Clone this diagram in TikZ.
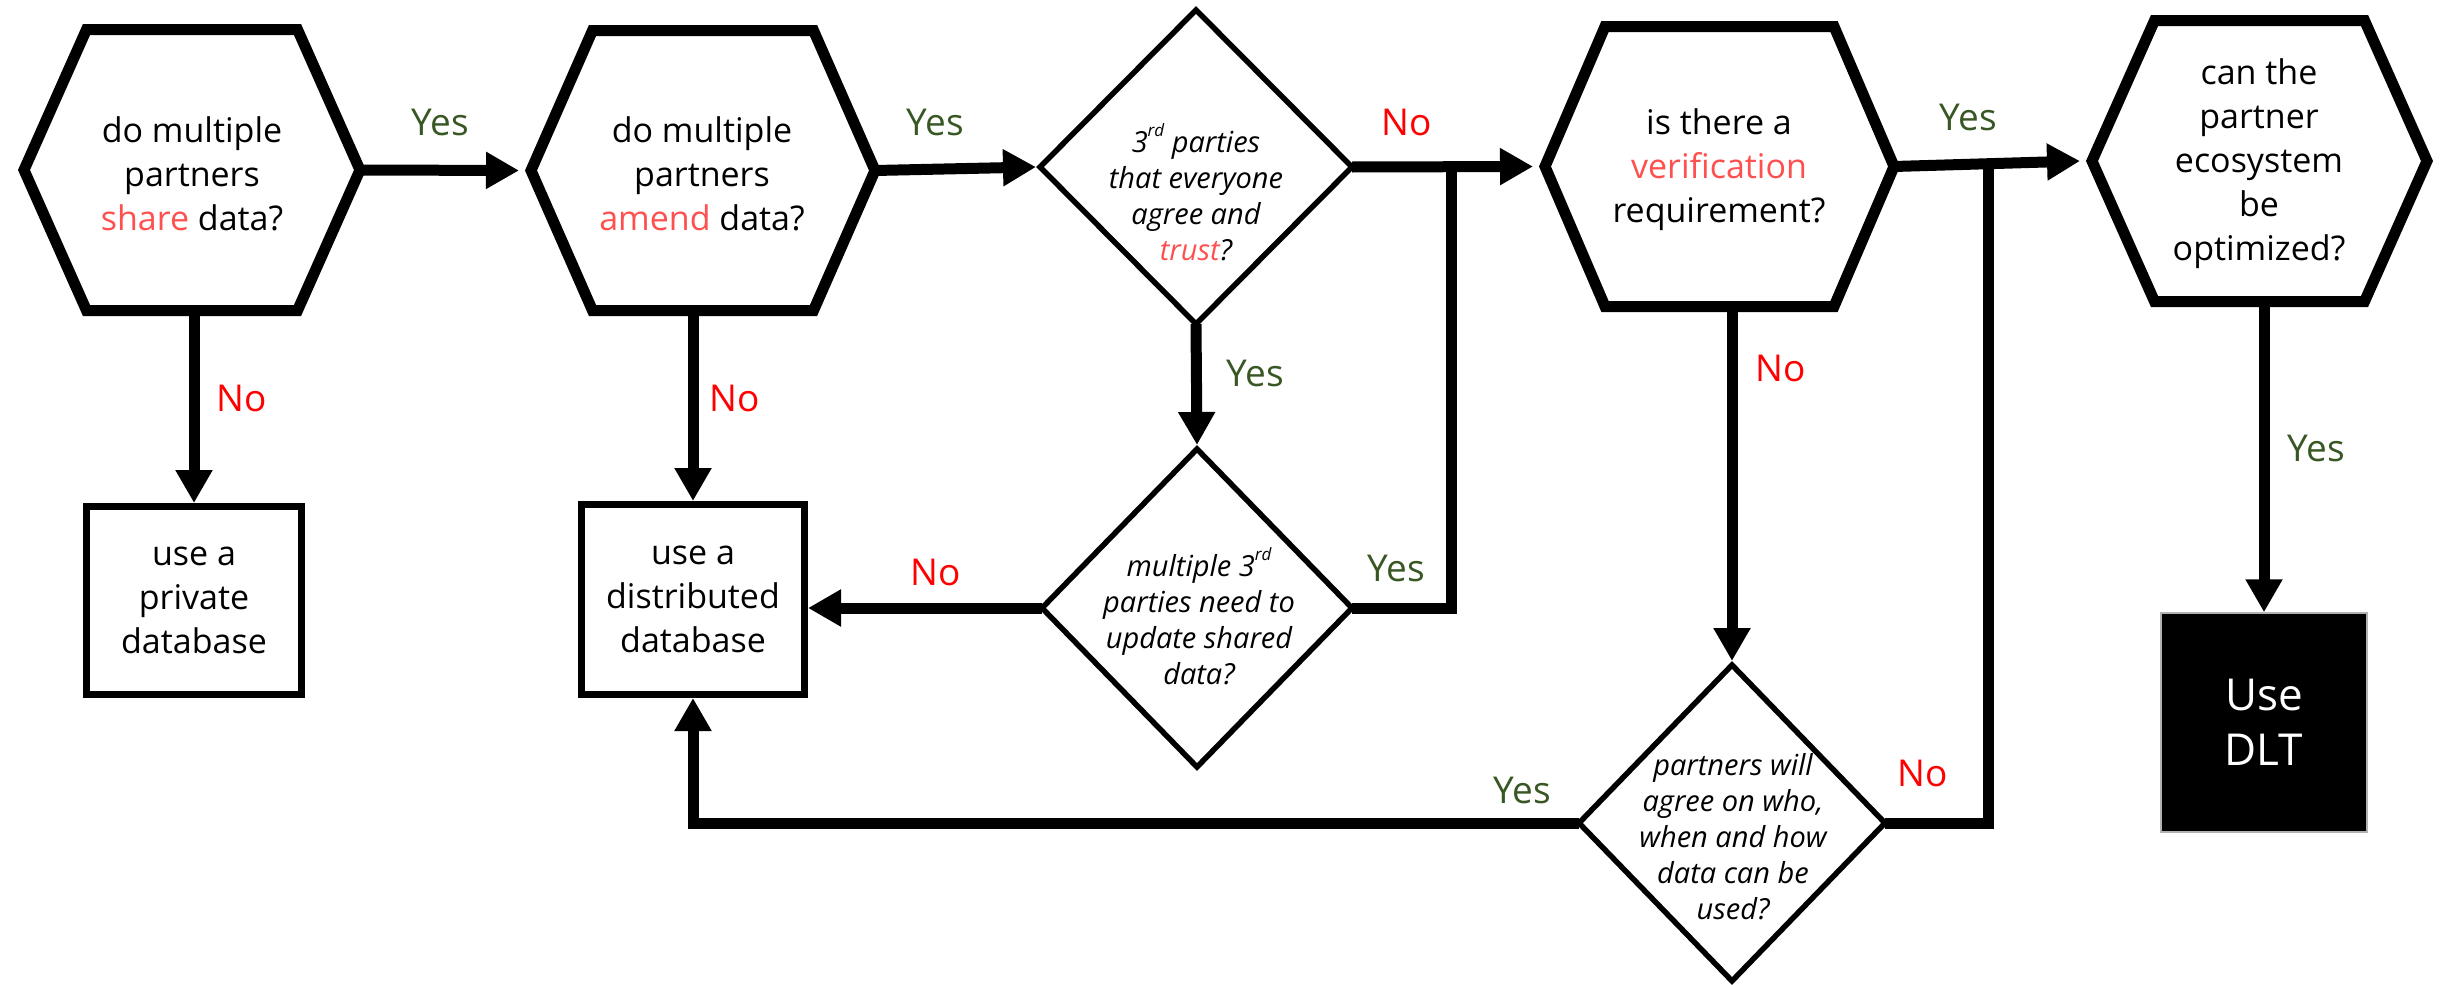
\documentclass[tikz,border=0pt]{standalone}
\usepackage{fontspec}
\setmainfont{Open Sans}
\usetikzlibrary{arrows.meta,calc}
\definecolor{yesg}{HTML}{385723}
\definecolor{nor}{HTML}{FF0000}
\definecolor{hl}{HTML}{FF5050}
\newcommand\supx[1]{\raisebox{0.55em}{\fontsize{17}{17}\selectfont #1}}
% hexagon: name, cx, cy, half width (vertex), half height, half top edge
\newcommand\hexa[6]{%
  \draw[hexs] ({#2-#4},#3) -- ({#2-#6},{#3-#5}) -- ({#2+#6},{#3-#5}) -- ({#2+#4},#3) -- ({#2+#6},{#3+#5}) -- ({#2-#6},{#3+#5}) -- cycle;
  \coordinate (#1-l) at ({#2-#4},#3);
  \coordinate (#1-r) at ({#2+#4},#3);
  \coordinate (#1-L) at ({#2-#4-12},#3);
  \coordinate (#1-b) at (#2,{#3+#5});
}
% diamond: name, cx, cy, half width, half height
\newcommand\dia[5]{%
  \draw[dias] ({#2-#4},#3) -- (#2,{#3-#5}) -- ({#2+#4},#3) -- (#2,{#3+#5}) -- cycle;
  \coordinate (#1-l) at ({#2-#4},#3);
  \coordinate (#1-r) at ({#2+#4},#3);
  \coordinate (#1-L) at ({#2-#4-4},#3);
  \coordinate (#1-T) at (#2,{#3-#5-4});
  \coordinate (#1-b) at (#2,{#3+#5});
}
\tikzset{
  hexs/.style={line width=11pt, line join=miter},
  dias/.style={line width=5.5pt, line join=miter},
  boxs/.style={draw, line width=7pt, inner sep=0pt, align=center, font=\fontsize{34}{44}\selectfont},
  conn/.style={line width=11pt, -{Triangle[length=33pt,width=35pt]}},
  plain/.style={line width=11pt},
  txt/.style={align=center, inner sep=0pt, font=\fontsize{34}{44}\selectfont},
  itxt/.style={align=center, inner sep=0pt, font=\fontsize{29}{36}\selectfont\itshape},
  yes/.style={inner sep=0pt, text=yesg, font=\fontsize{37}{40}\selectfont},
  no/.style={inner sep=0pt, text=nor, font=\fontsize{37}{40}\selectfont}
}
\begin{document}
\begin{tikzpicture}[x=1pt,y=-1pt]
\useasboundingbox (0,0) rectangle (2453,985);
\fill[white] (0,0) rectangle (2453,985);

% shapes
\hexa{H1}{192}{170}{168}{140.5}{105.5}
\hexa{H2}{703}{170.5}{172}{140}{110.5}
\hexa{H3}{1719.5}{166.5}{174.5}{140}{114.5}
\hexa{H4}{2259.5}{161}{167.5}{140.5}{105}
\dia{D1}{1196}{167}{156}{157}
\dia{D2}{1197}{608}{155}{159}
\dia{D3}{1732}{823}{153}{158}

\node[txt] (t1) at (192,174) {do multiple\\partners\\\textcolor{hl}{share} data?};
\node[txt] (t2) at (702,174) {do multiple\\partners\\\textcolor{hl}{amend} data?};
\node[txt] (t3) at (1719,170) {is there a\\\textcolor{hl}{verification}\\requirement?};
\node[txt] (t4) at (2259,164) {can the\\partner\\ecosystem\\be\\optimized?};
\node[itxt] (d1t) at (1196,192) {3\supx{rd} parties\\that everyone\\agree and\\\textcolor{hl}{trust}?};
\node[itxt] (d2t) at (1199,616) {multiple 3\supx{rd}\\parties need to\\update shared\\data?};
\node[itxt] (d3t) at (1733,837) {partners will\\agree on who,\\when and how\\data can be\\used?};

\node[boxs, minimum width=215pt, minimum height=188pt] (B1) at (194,600.5) {use a\\private\\database};
\node[boxs, minimum width=223pt, minimum height=190pt] (B2) at (693,599.5) {use a\\distributed\\database};
\node[draw=gray!60, line width=1.5pt, fill=black, text=white, align=center, inner sep=0pt,
      minimum width=206pt, minimum height=219pt, font=\fontsize{44}{55}\selectfont] (DLT) at (2264,722.5) {Use\\DLT};

% junctions
\coordinate (J1) at ($(D1-r)!0.547!(H3-L)$);
\coordinate (J2) at ($(H3-r)!0.51!(H4-L)$);

% connectors
\draw[conn] (H1-r) -- (H2-L);
\draw[conn] (H2-r) -- (D1-L);
\draw[conn] (D1-r) -- (H3-L);
\draw[conn] (H3-r) -- (H4-L);
\draw[conn] (B1.north |- H1-b) -- (B1.north);
\draw[conn] (B2.north |- H2-b) -- (B2.north);
\draw[conn] (D1-b) -- (D2-T);
\draw[conn] (D2-l) -- (B2.east |- D2-l);
\draw[plain] (D2-r) -- (J1 |- D2-r) -- (J1);
\draw[conn] (D3-T |- H3-b) -- (D3-T);
\draw[plain] (D3-r) -- (J2 |- D3-r) -- (J2);
\draw[conn] (D3-l) -- (B2.south |- D3-l) -- (B2.south);
\draw[conn] (DLT.north |- H4-b) -- (DLT.north);

% labels
\node[yes] (y1) at (440,122) {Yes};
\node[yes] (y2) at (935,122) {Yes};
\node[no]  (n3) at (1407,122) {No};
\node[yes] (y4) at (1968,117) {Yes};
\node[no]  (n1) at (242,398) {No};
\node[no]  (n2) at (735,398) {No};
\node[yes] (y3) at (1255,373) {Yes};
\node[no]  (n5) at (1781,368) {No};
\node[no]  (n4) at (936,572) {No};
\node[yes] (y5) at (1396,568) {Yes};
\node[no]  (n6) at (1923,773) {No};
\node[yes] (y6) at (1522,790) {Yes};
\node[yes] (y7) at (2316,448) {Yes};
\end{tikzpicture}
\end{document}
